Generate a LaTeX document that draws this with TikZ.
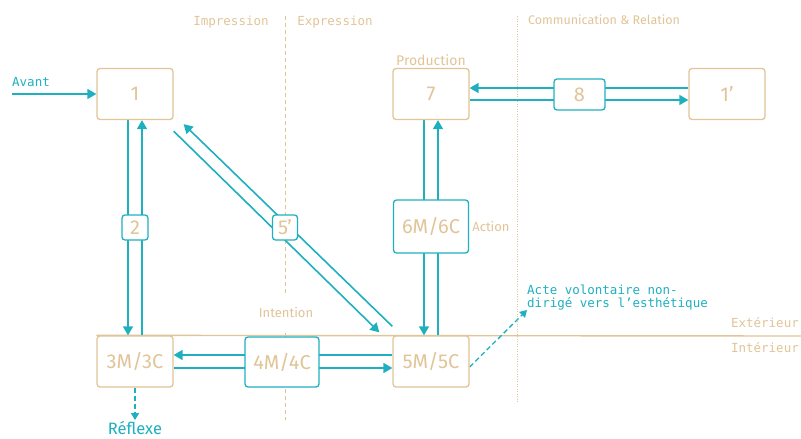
\documentclass[tikz,border=0pt]{standalone}
\usepackage{fontspec}
\setmainfont{Fira Sans}
\setmonofont{DejaVu Sans Mono}
\usetikzlibrary{calc,positioning,backgrounds,arrows.meta}
\definecolor{sand}{RGB}{225,196,152}
\definecolor{turq}{RGB}{30,176,190}

\begin{document}
\begin{tikzpicture}[x=1pt,y=-1pt]

\tikzset{sandbox/.style={draw=sand,line width=1.3pt,rounded corners=3pt,fill=white,minimum width=76pt,minimum height=51pt,inner sep=0pt,font=\fontsize{20}{20}\selectfont,text=sand},
turqbox/.style={draw=turq,line width=1.3pt,rounded corners=3pt,fill=white,inner sep=0pt,font=\fontsize{20}{20}\selectfont,text=sand},
flow/.style={draw=turq,line width=1.6pt,-{Triangle[length=9pt,width=10pt]}},
monolabel/.style={font=\ttfamily\fontsize{12.5}{13}\selectfont,text=sand},
sanslabel/.style={font=\fontsize{13}{14}\selectfont,text=sand}}

\useasboundingbox (0,0) rectangle (801,439);

% Boxes, top row
\node[sandbox] (b1) at (135,94) {1};
\node[sandbox] (b7) at (431,94) {7};
\node[sandbox] (b1p) at (727,94) {1’};
\node[turqbox,minimum width=51pt,minimum height=31pt] (b8) at (579.5,94.5) {8};

% Boxes, middle row
\node[turqbox,minimum width=26pt,minimum height=25pt] (b2) at (135,227.5) {2};
\node[turqbox,minimum width=25pt,minimum height=25pt] (b5p) at (285,227.5) {5’};
\node[turqbox,minimum width=75pt,minimum height=53pt] (b6) at (431,226.5) {6M/6C};

% Boxes, bottom row
\node[sandbox] (b3) at (135,361.5) {3M/3C};
\node[turqbox,minimum width=74pt,minimum height=50pt] (b4) at (282,362) {4M/4C};
\node[sandbox] (b5) at (431,361.5) {5M/5C};

% Labels
\node[monolabel] (impr) at (231,22) {Impression};
\node[monolabel] (expr) at (335,22) {Expression};
\node[sanslabel,font=\fontsize{12.5}{13}\selectfont] (comm) at (604,20) {Communication \& Relation};
\node[sanslabel,font=\fontsize{14}{14}\selectfont,inner sep=1pt] (prod) [above=1pt of b7] {Production};
\node[sanslabel,inner sep=1pt] (act) [right=2pt of b6] {Action};
\node[sanslabel,fill=white] (intent) at (286,313) {Intention};
\node[monolabel,text=turq] (avant) at (31,82) {Avant};
\coordinate (avstart) at (12,94);
\node[text=turq,font=\fontsize{16.5}{17}\selectfont,inner sep=1pt] (refl) at (135,428) {Réflexe};
\node[monolabel,text=turq,align=left,anchor=south west,inner sep=0pt] (acte) at (527,310) {Acte volontaire non-\\dirigé vers l’esthétique};
\node[monolabel,anchor=east,inner sep=1pt] (ext) at (800,323) {Extérieur};
\node[monolabel,anchor=east,inner sep=1pt] (int) at (800,348) {Intérieur};
\coordinate (rightend) at (801,336);

\begin{scope}[on background layer]
% Dividers
\draw[sand,line width=0.9pt,dash pattern=on 4pt off 3pt] (285,16) -- (285,293);
\draw[sand,line width=0.9pt,dash pattern=on 4pt off 3pt] (285,333) -- (285,420);
\draw[sand,line width=0.9pt,dash pattern=on 1pt off 1.5pt] (517,16) -- (517,402);
\draw[sand,line width=1.4pt] (b3.north west) -- (rightend);

% Flows
\draw[flow] ($(b1.south)+(-7,0)$) -- ($(b3.north)+(-7,0)$); \draw[flow] ($(b3.north)+(7,0)$) -- ($(b1.south)+(7,0)$); % 1 - 3M/3C
\draw[flow] ($(b7.south)+(-7,0)$) -- ($(b5.north)+(-7,0)$); \draw[flow] ($(b5.north)+(7,0)$) -- ($(b7.south)+(7,0)$); % 7 - 5M/5C
\draw[flow] ($(b5.west)+(0,-6.5)$) -- ($(b3.east)+(0,-6.5)$); \draw[flow] ($(b3.east)+(0,6.5)$) -- ($(b5.west)+(0,6.5)$); % 3M/3C - 5M/5C
\draw[flow] ($(b1p.west)+(0,-6)$) -- ($(b7.east)+(0,-6)$); \draw[flow] ($(b7.east)+(0,6)$) -- ($(b1p.west)+(0,6)$); % 7 - 1'
\draw[flow] ($(b1.south east)+(0,11)$) -- ($(b5.north west)+(-13,-3)$); \draw[flow] ($(b5.north west)+(0,-9)$) -- ($(b1.south east)+(10,4)$); % 1 - 5M/5C
\draw[flow] (avstart) -- (b1.west);

% Dashed exits
\draw[flow,line width=1.3pt,dash pattern=on 5pt off 3pt,-{Triangle[length=7pt,width=8pt]}] (b3.south) -- (refl.north);
\draw[flow,line width=1.3pt,dash pattern=on 5pt off 3pt,-{Triangle[length=7pt,width=8pt]}] ($(b5.east)+(0,5.5)$) -- (acte.south west);
\end{scope}

\end{tikzpicture}
\end{document}
